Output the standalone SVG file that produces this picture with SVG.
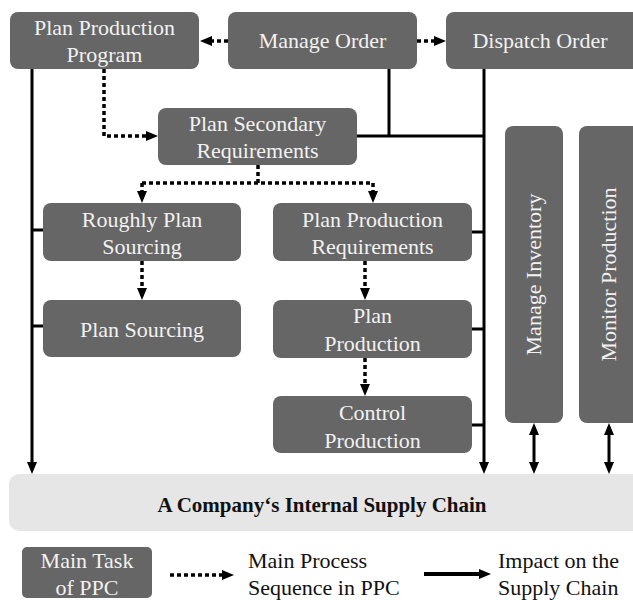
<svg xmlns="http://www.w3.org/2000/svg" width="633" height="600" viewBox="0 0 633 600">
<style>
.box{fill:#666666;}
.solid{fill:none;stroke:#000;stroke-width:3;}
.dot{fill:none;stroke:#000;stroke-width:3.5;stroke-dasharray:4 3;}
</style>
<defs>
<marker id="ah" viewBox="0 0 12 10" refX="0" refY="5" markerWidth="12" markerHeight="10" markerUnits="userSpaceOnUse" orient="auto-start-reverse">
<path d="M0,0 L12,5 L0,10 z" fill="#000"/>
</marker>
</defs>
<rect x="0" y="0" width="633" height="600" fill="#fff"/>

<g id="supply-chain">
<rect x="9" y="474" width="640" height="57" rx="10" fill="#e6e6e6"/>
<text x="322" y="512" font-family="Liberation Serif, Times New Roman, serif" font-size="21" font-weight="bold" fill="#111" text-anchor="middle">A Company‘s Internal Supply Chain</text>
</g>

<g id="n-ppp"><rect class="box" x="10" y="12" width="189" height="57" rx="8"/><text font-family="Liberation Serif, Times New Roman, serif" font-size="22" fill="#f2f2f2" text-anchor="middle" x="104.5" y="35">Plan Production</text><text font-family="Liberation Serif, Times New Roman, serif" font-size="22" fill="#f2f2f2" text-anchor="middle" x="104.5" y="62">Program</text></g>
<g id="n-mo"><rect class="box" x="228" y="12" width="189" height="57" rx="8"/><text font-family="Liberation Serif, Times New Roman, serif" font-size="22" fill="#f2f2f2" text-anchor="middle" x="322.5" y="48">Manage Order</text></g>
<g id="n-do"><rect class="box" x="446" y="12" width="200" height="57" rx="8"/><text font-family="Liberation Serif, Times New Roman, serif" font-size="22" fill="#f2f2f2" text-anchor="middle" x="540" y="48">Dispatch Order</text></g>
<g id="n-psr"><rect class="box" x="158" y="108" width="199" height="57" rx="8"/><text font-family="Liberation Serif, Times New Roman, serif" font-size="22" fill="#f2f2f2" text-anchor="middle" x="257.5" y="131">Plan Secondary</text><text font-family="Liberation Serif, Times New Roman, serif" font-size="22" fill="#f2f2f2" text-anchor="middle" x="257.5" y="158">Requirements</text></g>
<g id="n-rps"><rect class="box" x="43" y="203" width="198" height="58" rx="8"/><text font-family="Liberation Serif, Times New Roman, serif" font-size="22" fill="#f2f2f2" text-anchor="middle" x="142" y="227">Roughly Plan</text><text font-family="Liberation Serif, Times New Roman, serif" font-size="22" fill="#f2f2f2" text-anchor="middle" x="142" y="254">Sourcing</text></g>
<g id="n-ps"><rect class="box" x="43" y="300" width="198" height="57" rx="8"/><text font-family="Liberation Serif, Times New Roman, serif" font-size="22" fill="#f2f2f2" text-anchor="middle" x="142" y="337">Plan Sourcing</text></g>
<g id="n-ppr"><rect class="box" x="273" y="203" width="199" height="58" rx="8"/><text font-family="Liberation Serif, Times New Roman, serif" font-size="22" fill="#f2f2f2" text-anchor="middle" x="372.5" y="227">Plan Production</text><text font-family="Liberation Serif, Times New Roman, serif" font-size="22" fill="#f2f2f2" text-anchor="middle" x="372.5" y="254">Requirements</text></g>
<g id="n-pp"><rect class="box" x="273" y="300" width="199" height="58" rx="8"/><text font-family="Liberation Serif, Times New Roman, serif" font-size="22" fill="#f2f2f2" text-anchor="middle" x="372.5" y="323">Plan</text><text font-family="Liberation Serif, Times New Roman, serif" font-size="22" fill="#f2f2f2" text-anchor="middle" x="372.5" y="351">Production</text></g>
<g id="n-cp"><rect class="box" x="273" y="396" width="199" height="57" rx="8"/><text font-family="Liberation Serif, Times New Roman, serif" font-size="22" fill="#f2f2f2" text-anchor="middle" x="372.5" y="420">Control</text><text font-family="Liberation Serif, Times New Roman, serif" font-size="22" fill="#f2f2f2" text-anchor="middle" x="372.5" y="448">Production</text></g>
<g id="n-mi"><rect class="box" x="505" y="126" width="58" height="297" rx="8"/><text font-family="Liberation Serif, Times New Roman, serif" font-size="22" fill="#f2f2f2" text-anchor="middle" transform="translate(541,274.5) rotate(-90)" x="0" y="0">Manage Inventory</text></g>
<g id="n-mp"><rect class="box" x="579" y="126" width="70" height="297" rx="8"/><text font-family="Liberation Serif, Times New Roman, serif" font-size="22" fill="#f2f2f2" text-anchor="middle" transform="translate(616,274.5) rotate(-90)" x="0" y="0">Monitor Production</text></g>

<g id="legend">
<rect class="box" x="22" y="547" width="130" height="51" rx="5"/>
<text font-family="Liberation Serif, Times New Roman, serif" font-size="22" fill="#f2f2f2" text-anchor="middle" x="87" y="568">Main Task</text>
<text font-family="Liberation Serif, Times New Roman, serif" font-size="22" fill="#f2f2f2" text-anchor="middle" x="87" y="595">of PPC</text>
<text font-family="Liberation Serif, Times New Roman, serif" font-size="22" fill="#111" x="248" y="568">Main Process</text>
<text font-family="Liberation Serif, Times New Roman, serif" font-size="22" fill="#111" x="248" y="595">Sequence in PPC</text>
<text font-family="Liberation Serif, Times New Roman, serif" font-size="22" fill="#111" x="498" y="568">Impact on the</text>
<text font-family="Liberation Serif, Times New Roman, serif" font-size="22" fill="#111" x="498" y="595">Supply Chain</text>
</g>

<g id="connectors">
<path class="dot" d="M228 41 H212" marker-end="url(#ah)"/>
<path class="dot" d="M417 41 H434" marker-end="url(#ah)"/>
<path class="dot" d="M104 69 V136 H146" marker-end="url(#ah)"/>
<path class="dot" d="M258 165 V183"/>
<path class="dot" d="M142 183 H373"/>
<path class="dot" d="M142 183 V191" marker-end="url(#ah)"/>
<path class="dot" d="M373 183 V191" marker-end="url(#ah)"/>
<path class="dot" d="M142 261 V288" marker-end="url(#ah)"/>
<path class="dot" d="M365 261 V288" marker-end="url(#ah)"/>
<path class="dot" d="M365 358 V384" marker-end="url(#ah)"/>
<path class="solid" d="M32 69 V462" marker-end="url(#ah)"/>
<path class="solid" d="M32 230 H43 M32 326 H43"/>
<path class="solid" d="M389 69 V136 M357 136 H484"/>
<path class="solid" d="M484 69 V462" marker-end="url(#ah)"/>
<path class="solid" d="M472 232 H484 M472 329 H484 M472 425 H484"/>
<path class="solid" d="M534 435 V462" marker-start="url(#ah)" marker-end="url(#ah)"/>
<path class="solid" d="M609 435 V462" marker-start="url(#ah)" marker-end="url(#ah)"/>
<path class="dot" d="M170 575 H222" marker-end="url(#ah)"/>
<path class="solid" d="M424 574 H479" marker-end="url(#ah)" style="stroke-width:4"/>
</g>
</svg>
